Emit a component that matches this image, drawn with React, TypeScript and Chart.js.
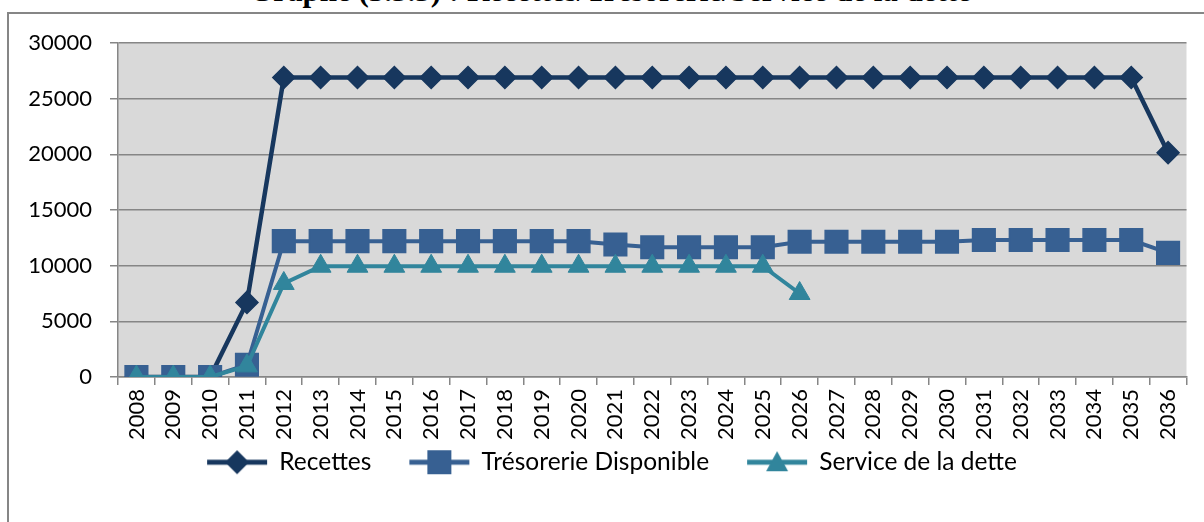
import React, { useEffect, useRef } from "react";
import { Chart, registerables } from "chart.js";

Chart.register(...registerables);

const years = [
  "2008", "2009", "2010", "2011", "2012", "2013", "2014", "2015", "2016", "2017",
  "2018", "2019", "2020", "2021", "2022", "2023", "2024", "2025", "2026", "2027",
  "2028", "2029", "2030", "2031", "2032", "2033", "2034", "2035", "2036",
];

const recettes = [
  0, 0, 0, 6700, 26900, 26900, 26900, 26900, 26900, 26900,
  26900, 26900, 26900, 26900, 26900, 26900, 26900, 26900, 26900, 26900,
  26900, 26900, 26900, 26900, 26900, 26900, 26900, 26900, 20150,
];

const tresorerie = [
  0, 0, 0, 1100, 12200, 12200, 12200, 12200, 12200, 12200,
  12200, 12200, 12200, 11900, 11650, 11650, 11650, 11650, 12150, 12150,
  12150, 12150, 12150, 12300, 12300, 12300, 12300, 12300, 11150,
];

const serviceDette = [
  0, 0, 0, 1000, 8400, 9950, 9950, 9950, 9950, 9950,
  9950, 9950, 9950, 9950, 9950, 9950, 9950, 9950, 7500, null,
  null, null, null, null, null, null, null, null, null,
];

const seriesLabels = ["Recettes", "Trésorerie Disponible", "Service de la dette"];
const titleText = "Graphe (3.5.5) : Recettes/Trésorerie/Service de la dette";

const colors = ["#17375E", "#376092", "#31859C"];
const FONT = "Lato, 'Liberation Sans', sans-serif";
const LEGEND_SIZE = 24.5;

function makeLegendIcon(color: string, kind: string): HTMLCanvasElement {
  const c = document.createElement("canvas");
  c.width = 160;
  c.height = 32;
  const ctx = c.getContext("2d")!;
  const cx = 98;
  const cy = 16;
  ctx.strokeStyle = color;
  ctx.fillStyle = color;
  ctx.lineWidth = 5;
  ctx.beginPath();
  ctx.moveTo(cx - 30, cy);
  ctx.lineTo(cx + 30, cy);
  ctx.stroke();
  ctx.beginPath();
  if (kind === "diamond") {
    const r = 12;
    ctx.moveTo(cx, cy - r);
    ctx.lineTo(cx + r, cy);
    ctx.lineTo(cx, cy + r);
    ctx.lineTo(cx - r, cy);
  } else if (kind === "square") {
    const h = 12;
    ctx.rect(cx - h, cy - h, 2 * h, 2 * h);
  } else {
    const h = 11;
    ctx.moveTo(cx, cy - h);
    ctx.lineTo(cx + h, cy + h - 2);
    ctx.lineTo(cx - h, cy + h - 2);
  }
  ctx.closePath();
  ctx.fill();
  return c;
}

const plotBg = {
  id: "plotBg",
  beforeDraw(chart: any) {
    const { ctx, chartArea: a } = chart;
    ctx.save();
    ctx.fillStyle = "#D9D9D9";
    ctx.fillRect(a.left, a.top, a.right - a.left, a.bottom - a.top);
    ctx.restore();
  },
};

export default function App() {
  const ref = useRef<HTMLCanvasElement>(null);

  useEffect(() => {
    const icons = [
      makeLegendIcon(colors[0], "diamond"),
      makeLegendIcon(colors[1], "square"),
      makeLegendIcon(colors[2], "triangle"),
    ];
    const gridColor = "#868686";
    const chart = new Chart(ref.current!, {
      type: "line",
      data: {
        labels: years,
        datasets: [
          {
            label: seriesLabels[0],
            data: recettes,
            borderColor: colors[0],
            backgroundColor: colors[0],
            borderWidth: 4.5,
            pointStyle: "rectRot",
            pointRadius: 11,
            pointBorderWidth: 1.5,
            order: 2,
          },
          {
            label: seriesLabels[1],
            data: tresorerie,
            borderColor: colors[1],
            backgroundColor: colors[1],
            borderWidth: 4,
            pointStyle: "rect",
            pointRadius: 16,
            pointBorderWidth: 1.5,
            order: 1,
          },
          {
            label: seriesLabels[2],
            data: serviceDette,
            borderColor: colors[2],
            backgroundColor: colors[2],
            borderWidth: 4,
            pointStyle: "triangle",
            pointRadius: 12,
            pointBorderWidth: 1,
            order: 0,
            spanGaps: false,
          },
        ],
      },
      options: {
        responsive: false,
        animation: false,
        font: { family: FONT, size: 22 },
        layout: { padding: { top: 43, left: 0, right: 16, bottom: 37.5 } },
        plugins: {
          tooltip: { enabled: false },
          legend: {
            position: "bottom",
            labels: {
              usePointStyle: true,
              pointStyleWidth: 96,
              padding: 2,
              color: "#000",
              font: { family: FONT, size: LEGEND_SIZE },
              generateLabels: (ch: any) =>
                ch.data.datasets.map((ds: any, i: number) => ({
                  text: ds.label,
                  pointStyle: icons[i],
                  fillStyle: colors[i],
                  strokeStyle: colors[i],
                  lineWidth: 0,
                  hidden: false,
                  datasetIndex: i,
                })),
            },
          },
        },
        scales: {
          x: {
            type: "category",
            offset: true,
            grid: {
              offset: true,
              drawOnChartArea: false,
              drawTicks: true,
              tickLength: 8,
              color: gridColor,
              lineWidth: 1.5,
            },
            border: { display: true, color: gridColor, width: 1.5 },
            ticks: {
              minRotation: 90,
              maxRotation: 90,
              autoSkip: false,
              padding: 4,
              color: "#000",
              font: { family: FONT, size: 22 },
            },
            afterFit: (s: any) => {
              s.height = 71;
            },
          },
          y: {
            min: 0,
            max: 30000,
            ticks: {
              stepSize: 5000,
              padding: 18,
              color: "#000",
              font: { family: FONT, size: 22 },
              callback: (v: any) => String(v),
            },
            grid: { color: gridColor, lineWidth: 1.5, tickLength: 8, drawTicks: true },
            border: { display: true, color: gridColor, width: 1.5 },
            afterFit: (s: any) => {
              s.width = 118;
            },
          },
        },
      } as any,
      plugins: [plotBg],
    });
    return () => chart.destroy();
  }, []);

  return (
    <div
      style={{
        position: "fixed",
        left: 0,
        top: 0,
        width: 1204,
        height: 522,
        overflow: "hidden",
        background: "#fff",
      }}
    >
      <div
        style={{
          position: "absolute",
          left: 0,
          top: -25,
          width: 1220,
          textAlign: "center",
          font: "bold 31px 'Liberation Serif', serif",
          lineHeight: "31px",
          whiteSpace: "nowrap",
          color: "#000",
        }}
      >
        {titleText}
      </div>
      <div
        style={{
          position: "absolute",
          left: 7,
          top: 12,
          width: 1300,
          height: 600,
          border: "2px solid #868686",
        }}
      />
      <canvas
        ref={ref}
        width={1204}
        height={522}
        style={{ position: "absolute", left: 0, top: 0, width: 1204, height: 522 }}
      />
    </div>
  );
}
